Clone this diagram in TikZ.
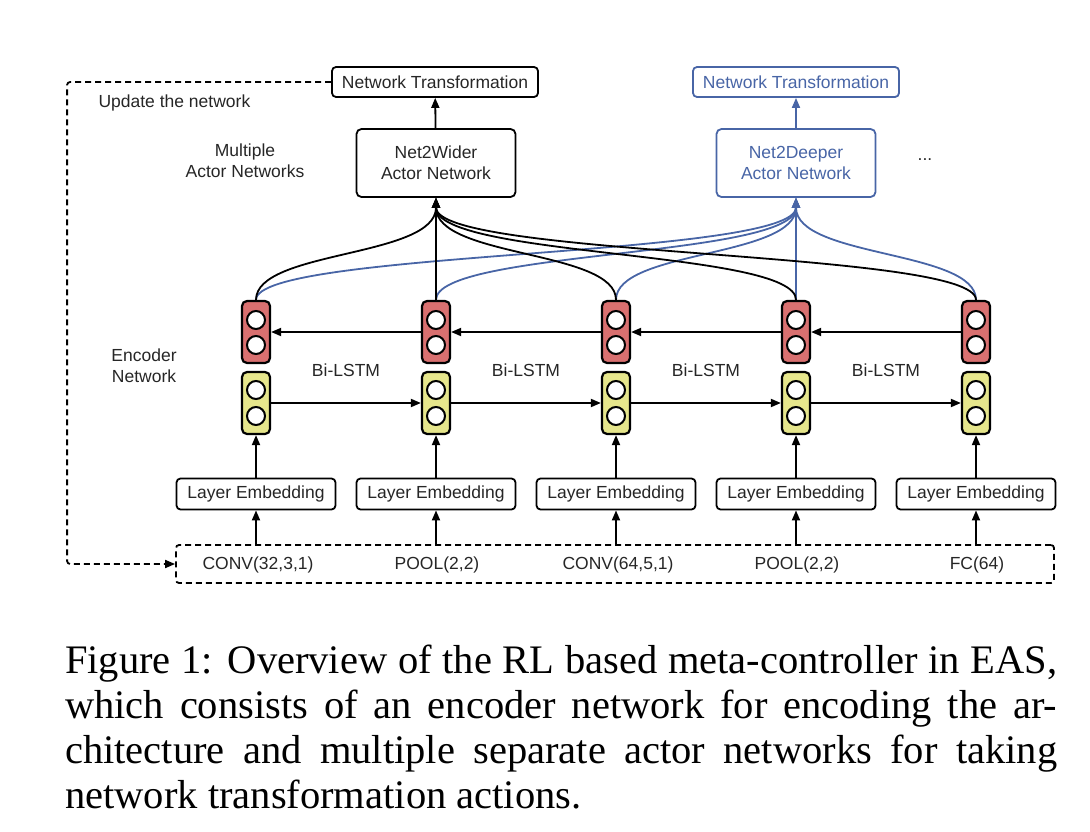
\documentclass[tikz,border=0pt]{standalone}
\usepackage{fontspec}
\setmainfont{Liberation Serif}
\setsansfont{Liberation Sans}
\usepackage{xcolor}
\usetikzlibrary{arrows.meta}
\definecolor{netblue}{RGB}{72,101,166}
\definecolor{cellred}{RGB}{217,112,112}
\definecolor{cellyellow}{RGB}{230,230,140}

\begin{document}
\begin{tikzpicture}[x=1pt, y=-1pt,
    every node/.style={font=\sffamily\fontsize{17.5}{21}\selectfont, text=black!85},
    tbox/.style={draw, line width=1.8pt, rounded corners=4pt, inner sep=0pt, minimum width=206pt, minimum height=30pt},
    actor/.style={draw, line width=1.8pt, rounded corners=5pt, align=center, minimum width=159pt, minimum height=68pt},
    embed/.style={draw, line width=1.8pt, rounded corners=4pt, inner sep=0pt, minimum width=159pt, minimum height=31pt},
    cell/.style={draw, line width=2.2pt, rounded corners=5pt, inner sep=0pt, minimum width=28pt, minimum height=62pt},
    dot/.style={circle, draw, fill=white, line width=2pt, inner sep=0pt, minimum size=18pt},
    link/.style={-{Triangle[length=10pt,width=8pt]}, line width=1.8pt},
    ]
    \useasboundingbox (0,0) rectangle (1090,832);

    % Actor networks and their transformations
    \node[tbox] (nt1) at (435,82) {Network Transformation};
    \node[tbox, draw=netblue, text=netblue] (nt2) at (796,82) {Network Transformation};
    \node[actor] (wider) at (436,163) {Net2Wider\\Actor Network};
    \node[actor, draw=netblue, text=netblue] (deeper) at (796,163) {Net2Deeper\\Actor Network};
    \node (more) at (925,160) {...};
    \draw[link] (wider) -- (nt1);
    \draw[link, netblue] (deeper) -- (nt2);

    % Labels
    \node[anchor=west] (update) at (95,103) {Update the network};
    \node[align=center] (multi) at (245,161) {Multiple\\Actor Networks};
    \node[align=center] (enc) at (144,366) {Encoder\\Network};

    % Architecture description
    \node[draw, dashed, dash pattern=on 6pt off 4pt, line width=1.8pt, rounded corners=3pt, minimum width=878pt, minimum height=38pt] (code) at (615,564) {};
    \node (c1) at (258,565) {CONV(32,3,1)};
    \node (c2) at (437,565) {POOL(2,2)};
    \node (c3) at (618,565) {CONV(64,5,1)};
    \node (c4) at (797,565) {POOL(2,2)};
    \node (c5) at (977,565) {FC(64)};

    % Update loop
    \draw[link, dash pattern=on 6pt off 4pt, rounded corners=3pt] (nt1.west) -- ++(-264,0) |- (code.west);

    % Encoder columns
    \foreach \i [evaluate=\i as \x using 76+180*\i] in {1,...,5} {
        \node[cell, fill=cellred] (r\i) at (\x,332) {};
        \node[dot] (r\i-a) at (\x,320) {};
        \node[dot] (r\i-b) at (\x,345) {};
        \node[cell, fill=cellyellow] (y\i) at (\x,403) {};
        \node[dot] (y\i-a) at (\x,390) {};
        \node[dot] (y\i-b) at (\x,416) {};
        \node[embed] (e\i) at (\x,494) {Layer Embedding};
        \draw[link] (e\i) -- (y\i);
        \draw[link] (code.north -| e\i) -- (e\i.south);
    }

    % Bi-LSTM links
    \foreach \i/\j in {1/2,2/3,3/4,4/5} {
        \draw[link] (y\i) -- (y\j);
        \draw[link] (r\j) -- (r\i);
        \node (bl\i) at (166+180*\i,370) {Bi-LSTM};
    }

    % Encoder outputs to actors
    \foreach \i in {1,2,3,5}
        \draw[link, netblue] (r\i.north) .. controls +(0,-50) and +(0,60) .. (deeper.south);
    \draw[link, netblue] (r4) -- (deeper);
    \foreach \i in {1,3,4,5}
        \draw[link] (r\i.north) .. controls +(0,-50) and +(0,60) .. (wider.south);
    \draw[link] (r2) -- (wider);

    % Caption
    \node[anchor=north west, inner sep=0pt, text width=992pt, align=justify, text=black, font=\rmfamily\fontsize{40.5}{45}\selectfont] (caption) at (65,645)
        {Figure 1: Overview of the RL based meta-controller in EAS,\linebreak which consists of an encoder network for encoding the ar-\linebreak chitecture and multiple separate actor networks for taking\linebreak network transformation actions.};
\end{tikzpicture}
\end{document}
